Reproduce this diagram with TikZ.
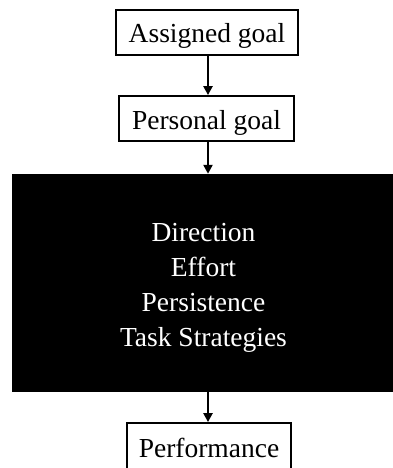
\documentclass[tikz,border=0pt]{standalone}
\usepackage{fontspec}
\setmainfont{Liberation Serif}
\usetikzlibrary{arrows.meta}
\begin{document}
\begin{tikzpicture}[x=1pt,y=-1pt,
  labelbox/.style={draw=black,line width=1.8pt,inner sep=0pt,
    font=\fontsize{27.5}{33.5}\selectfont,text height=21pt,text depth=0pt},
  blockbox/.style={fill=black,text=white,inner sep=0pt,align=center,
    font=\fontsize{27.5}{35}\selectfont},
  flow/.style={line width=2.6pt,-{Triangle[width=9pt,length=9pt]}}]
\useasboundingbox (0,0) rectangle (393,468);
\clip (0,0) rectangle (393,468);

% goal chain
\node[labelbox,minimum width=182pt,minimum height=45pt] (assigned) at (207,32.5) {Assigned goal};
\node[labelbox,minimum width=175pt,minimum height=45pt] (personal) at (206.5,118.5) {Personal goal};

% mediating mechanisms
\node[blockbox,minimum width=383pt,minimum height=218pt] (mech) at (203.5,283) {};
\node[text=white,align=center,inner sep=0pt,font=\fontsize{27.5}{35}\selectfont]
  (mechtext) at (203.5,288) {Direction\\Effort\\Persistence\\Task Strategies};

% outcome
\node[labelbox,minimum width=164pt,minimum height=47pt] (perf) at (209,446.5) {Performance};

% connectors
\draw[flow] (208,0 |- assigned.south) -- (208,0 |- personal.north);
\draw[flow] (208,0 |- personal.south) -- (208,0 |- mech.north);
\draw[flow] (208,0 |- mech.south) -- (208,0 |- perf.north);
\end{tikzpicture}
\end{document}
